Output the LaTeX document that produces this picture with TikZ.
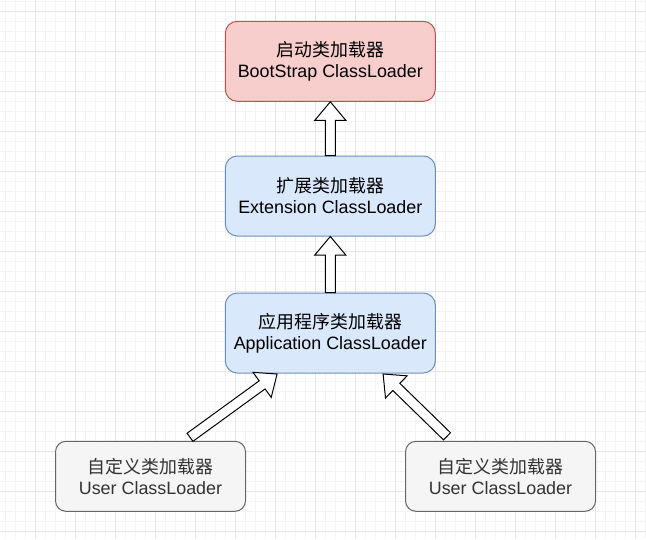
\documentclass[tikz,border=0pt]{standalone}
\usepackage{fontspec}
\setmainfont{Liberation Sans}
\newfontfamily\cjk{Noto Sans CJK SC}
\usepackage{xcolor}
\usepackage{tikz}
\usetikzlibrary{calc, positioning}
\definecolor{bootfill}{HTML}{F8CECC}
\definecolor{bootline}{HTML}{B85450}
\definecolor{extfill}{HTML}{DAE8FC}
\definecolor{extline}{HTML}{6C8EBF}
\definecolor{userfill}{HTML}{F5F5F5}
\definecolor{userline}{HTML}{666666}
\definecolor{usertext}{HTML}{333333}
\definecolor{gridmajor}{HTML}{E6E6E6}
\definecolor{gridminor}{HTML}{F4F4F4}
\tikzset{
    loaders/.style={
        x=1pt, y=-1pt,
        font=\fontsize{17.9}{21}\selectfont,
        loader/.style={draw, rectangle, align=center, inner sep=0pt, line width=1pt, minimum width=210pt, minimum height=80pt, rounded corners=12pt},
        bootbox/.style={loader, fill=bootfill, draw=bootline},
        extbox/.style={loader, fill=extfill, draw=extline},
        userbox/.style={loader, fill=userfill, draw=userline, text=usertext, minimum width=190pt, minimum height=70pt, rounded corners=10.5pt},
        hollow/.style={draw=black, fill=white, line width=1pt},
        minorgrid/.style={gridminor, line width=1pt},
        majorgrid/.style={gridmajor, line width=1pt}
    }
}
% wide hollow arrow from #1 (tail) to #2 (tip)
\newcommand{\hollowarrow}[2]{%
    \coordinate (hb) at ($(#2)!18.5pt!(#1)$);
    \draw[hollow] ($(#1)!5pt!90:(#2)$) -- ($(hb)!5pt!-90:(#1)$) -- ($(hb)!15.5pt!-90:(#1)$)
        -- (#2) -- ($(hb)!15.5pt!90:(#1)$) -- ($(hb)!5pt!90:(#1)$) -- ($(#1)!5pt!-90:(#2)$) -- cycle;
}
\begin{document}
\begin{tikzpicture}[loaders]
        \useasboundingbox[fill=white] (0,0) rectangle (646,539);
        % Grid
        \foreach \x in {5.3,15.3,...,645.3} \draw[minorgrid] (\x,0) -- (\x,539);
        \foreach \y in {1.3,11.3,...,538.3} \draw[minorgrid] (0,\y) -- (646,\y);
        \foreach \x in {35.3,75.3,...,645.3} \draw[majorgrid] (\x,0) -- (\x,539);
        \foreach \y in {11.3,51.3,...,538.3} \draw[majorgrid] (0,\y) -- (646,\y);

        % Loaders
        \node[bootbox] (boot) at (330.3,61.3) {{\cjk 启动类加载器}\\BootStrap ClassLoader};
        \node[extbox, below=53.7pt of boot] (ext) {{\cjk 扩展类加载器}\\Extension ClassLoader};
        \node[extbox, below=56pt of ext] (app) {{\cjk 应用程序类加载器}\\Application ClassLoader};
        \node[userbox] (userL) at (150.5,476.3) {{\cjk 自定义类加载器}\\User ClassLoader};
        \node[userbox] (userR) at (500.5,476.3) {{\cjk 自定义类加载器}\\User ClassLoader};

        % Arrow ends
        \coordinate (lTail) at ($(userL.north)+(39.5,-3.5)$);
        \coordinate (lTip) at ($(app.south)+(-53.2,0.5)$);
        \coordinate (rTail) at ($(userR.north)+(-53.5,-4.5)$);
        \coordinate (rTip) at ($(app.south)+(52.8,0.5)$);

        % Delegation arrows
        \hollowarrow{ext.north}{boot.south}
        \hollowarrow{app.north}{ext.south}
        \hollowarrow{lTail}{lTip}
        \hollowarrow{rTail}{rTip}
    \end{tikzpicture}
\end{document}
